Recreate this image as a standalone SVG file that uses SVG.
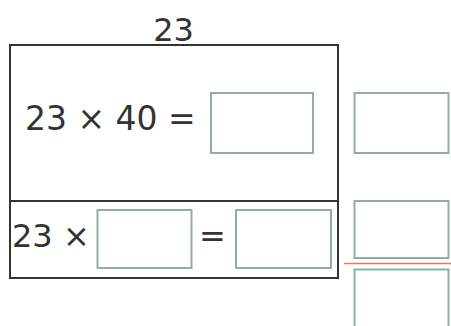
<svg xmlns="http://www.w3.org/2000/svg" width="451" height="326" viewBox="0 0 451 326">
<style>
.t{font-family:"DejaVu Sans",Verdana,sans-serif;font-size:32px;fill:#333}
.box{fill:#fff;stroke:#8fafa5;stroke-width:2}
.frame{fill:none;stroke:#333;stroke-width:2}
</style>
<rect width="451" height="326" fill="#fff"/>
<g id="frame">
<rect class="frame" x="10" y="45" width="328" height="233"/>
<line x1="10" y1="201" x2="338" y2="201" stroke="#333" stroke-width="2"/>
</g>
<g id="top-label"><text class="t" x="173.5" y="41" text-anchor="middle">23</text></g>
<g id="eq1">
<text class="t" x="25" y="130" style="font-size:33px">23 × 40 =</text>
<rect class="box" x="211" y="93" width="102" height="60"/>
</g>
<g id="eq2">
<text class="t" x="12" y="247">23 ×</text>
<rect class="box" x="97.5" y="210" width="94" height="58"/>
<text class="t" x="212.5" y="247" text-anchor="middle">=</text>
<rect class="box" x="236" y="210" width="95" height="58"/>
</g>
<g id="side">
<rect class="box" x="354.5" y="93" width="94" height="60"/>
<rect class="box" x="354.5" y="201" width="94" height="57"/>
<line x1="344" y1="263.5" x2="451" y2="263.5" stroke="#e7776a" stroke-width="1.5"/>
<rect class="box" x="354.5" y="269.5" width="94" height="60"/>
</g>
</svg>
